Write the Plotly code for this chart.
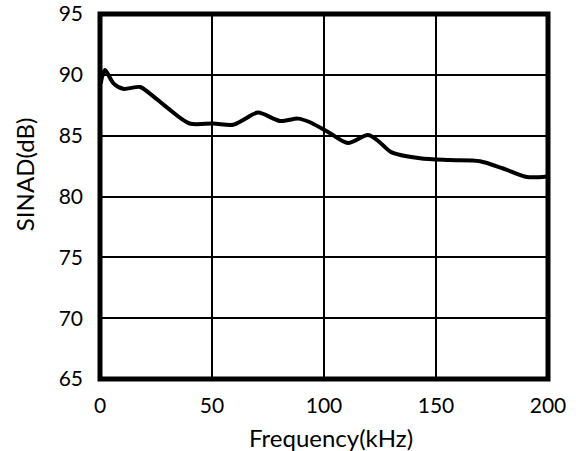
import plotly.graph_objects as go

freq_khz = [0.3, 2.2, 6, 10.3, 17.9, 22, 30, 40, 50.5, 59.4, 64, 70.5, 80.4, 88.4, 93.75, 102.7, 110.7, 119.6, 124, 130, 142.9, 156, 169.6, 180, 190.6, 199.5]
sinad_db = [89.3, 90.4, 89.3, 88.85, 89.0, 88.5, 87.3, 86.0, 86.0, 85.9, 86.3, 86.9, 86.2, 86.4, 86.1, 85.2, 84.4, 85.05, 84.6, 83.65, 83.15, 83.0, 82.9, 82.3, 81.6, 81.65]

x_ticks = [0, 50, 100, 150, 200]
y_ticks = [65, 70, 75, 80, 85, 90, 95]
x_title = "Frequency(kHz)"
y_title = "SINAD(dB)"

fig = go.Figure()
fig.add_trace(go.Scatter(x=freq_khz, y=sinad_db, mode="lines",
                         line=dict(color="black", width=4, shape="spline", smoothing=0.8),
                         showlegend=False))

tick_font = dict(family="Lato, sans-serif", size=21, color="black")
title_font = dict(family="Lato, sans-serif", size=24, color="black")
axis_common = dict(showgrid=True, gridcolor="black", gridwidth=1.6,
                   showline=False, ticks="", zeroline=False,
                   tickfont=tick_font, automargin=False)
fig.update_layout(
    width=576, height=451,
    margin=dict(l=100, r=28, t=14, b=72),
    paper_bgcolor="white", plot_bgcolor="white",
    font=tick_font,
    xaxis=dict(range=[0, 200], tickvals=x_ticks, ticklabelstandoff=12, **axis_common),
    yaxis=dict(range=[65, 95], tickvals=y_ticks, ticklabelstandoff=16, **axis_common),
    shapes=[dict(type="rect", xref="paper", yref="paper", x0=0, x1=1, y0=0, y1=1,
                 line=dict(color="black", width=5), layer="above")],
    annotations=[
        dict(text=x_title, xref="paper", yref="paper", x=0.516, y=-0.159,
             xanchor="center", yanchor="middle", showarrow=False, font=title_font),
        dict(text=y_title, xref="paper", yref="paper", x=-0.167, y=0.559,
             xanchor="center", yanchor="middle", showarrow=False, font=title_font,
             textangle=-90),
    ],
)
fig.write_html("out.html", config={"displayModeBar": False},
               post_script="document.body.style.margin='0';")
